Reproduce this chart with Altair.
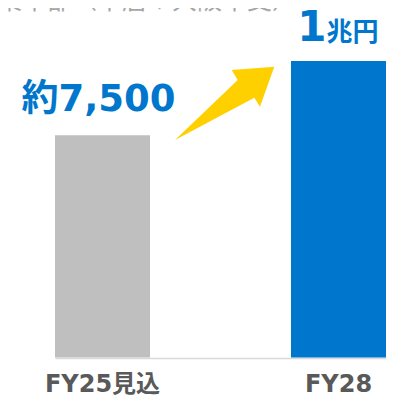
import altair as alt
import pandas as pd

categories = ["FY25見込", "FY28"]
values = [7500, 10000]
bar_colors = ["#BFBFBF", "#0077CC"]
main_labels = ["約7,500", "1"]
unit_labels = ["", "兆円"]
header_text = ["事業本部（本店＋大阪本支）"]
arrow_value = [8567]

df = pd.DataFrame({
    "cat": categories,
    "value": values,
    "color": bar_colors,
    "main": main_labels,
    "unit": unit_labels,
})

FONT = "DejaVu Sans, Noto Sans CJK JP"
BLUE = "#0077CC"

x_enc = alt.X(
    "cat:N",
    sort=categories,
    scale=alt.Scale(range=[47, 378], paddingInner=0.5975, paddingOuter=0),
    axis=alt.Axis(
        title=None, orient="bottom", offset=-41, ticks=False, tickSize=0,
        domainColor="#D9D9D9", domainWidth=1.5, labelAngle=0,
        labelFont=FONT, labelFontSize=24, labelFontWeight="bold",
        labelColor="#595959", labelPadding=33, labelBaseline="alphabetic",
    ),
)
y_scale = alt.Scale(domain=[-1400, 11788], nice=False, zero=False)

bars = alt.Chart(df).mark_bar().encode(
    x=x_enc,
    y=alt.Y("value:Q", scale=y_scale, axis=None),
    y2=alt.datum(0),
    color=alt.Color("color:N", scale=None),
)

lbl_gray = alt.Chart(df).transform_filter(alt.datum.cat == categories[0]).mark_text(
    font=FONT, fontSize=37, fontWeight="bold", color=BLUE,
    baseline="alphabetic", align="center", dx=-4, dy=-24,
).encode(x=alt.X("cat:N", sort=categories), y=alt.Y("value:Q"), text="main:N")

lbl_one = alt.Chart(df).transform_filter(alt.datum.cat == categories[1]).mark_text(
    font=FONT, fontSize=42, fontWeight="bold", color=BLUE,
    baseline="alphabetic", align="right", dx=-12, dy=-20,
).encode(x=alt.X("cat:N", sort=categories), y=alt.Y("value:Q"), text="main:N")

lbl_unit = alt.Chart(df).transform_filter(alt.datum.cat == categories[1]).mark_text(
    font=FONT, fontSize=26, fontWeight="bold", color=BLUE,
    baseline="alphabetic", align="left", dx=-12, dy=-20,
).encode(x=alt.X("cat:N", sort=categories), y=alt.Y("value:Q"), text="unit:N")

arrow_path = ("M -0.909 0.664 L 0.533 -0.105 L 0.636 0.058 L 0.896 -0.669 "
              "L 0.122 -0.609 L 0.231 -0.427 Z")
arrow = alt.Chart(pd.DataFrame({"v": arrow_value})).mark_point(
    shape=arrow_path, filled=True, color="#FFD000", opacity=1, size=12100, strokeWidth=0,
).encode(x=alt.value(217), y=alt.Y("v:Q"))

header = alt.Chart(pd.DataFrame({"t": header_text})).mark_text(
    font="Noto Sans CJK JP", fontSize=25, color="#A6A6A6",
    baseline="alphabetic", align="left",
).encode(x=alt.value(-36), y=alt.value(1), text="t:N")

chart = alt.layer(bars, arrow, lbl_gray, lbl_one, lbl_unit, header).properties(
    width=385, height=391,
    autosize=alt.AutoSizeParams(type="none"),
    padding=0,
).configure_view(strokeWidth=0)

chart.save("out.html", embed_options={"renderer": "svg", "actions": False})
